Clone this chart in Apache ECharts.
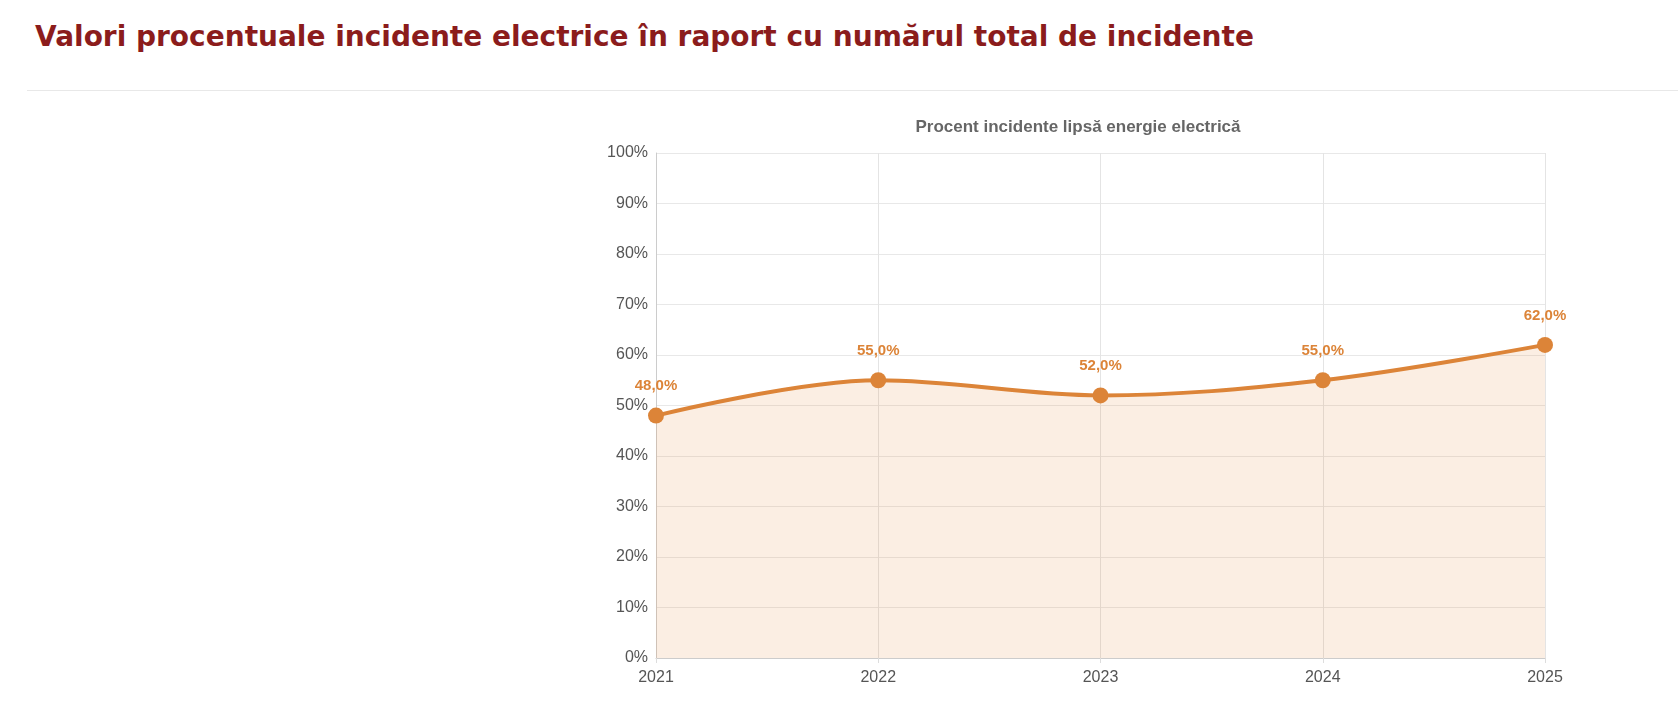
<!DOCTYPE html>
<html>
<head>
<meta charset="utf-8">
<script src="https://cdn.jsdelivr.net/npm/echarts@6/dist/echarts.min.js"></script>
<style>
  html, body { margin: 0; padding: 0; background: #fff; }
  #page { position: relative; width: 1678px; height: 712px; }
  h2 { position: absolute; left: 35px; top: 20px; margin: 0; font-family: "DejaVu Sans", sans-serif; font-size: 28px; font-weight: bold; color: #8b1c1c; }
  #sep { position: absolute; left: 27px; right: 0; top: 90px; border-top: 1px solid #e8e8e8; }
  #chart { position: absolute; left: 0; top: 0; width: 1678px; height: 712px; }
</style>
</head>
<body>
<div id="page">
  <h2>Valori procentuale incidente electrice în raport cu numărul total de incidente</h2>
  <div id="sep"></div>
  <div id="chart"></div>
</div>
<script>
// date grafic
var years = ['2021', '2022', '2023', '2024', '2025'];
var procente = [48.0, 55.0, 52.0, 55.0, 62.0];

var chart = echarts.init(document.getElementById('chart'));
var option = {
  animation: false,
  title: {
    text: 'Procent incidente lipsă energie electrică',
    left: 1073,
    textAlign: 'center',
    top: 114,
    textStyle: { fontSize: 17, fontWeight: 'bold', color: '#666', fontFamily: 'Liberation Sans, Arial, sans-serif' }
  },
  grid: { left: 656, right: 133, top: 153, bottom: 54 },
  xAxis: {
    type: 'category',
    boundaryGap: false,
    data: years,
    axisLine: { lineStyle: { color: '#ccc' } },
    axisTick: { show: true, lineStyle: { color: '#ddd' } },
    splitLine: { show: true, lineStyle: { color: '#e4e4e4' } },
    axisLabel: { color: '#555', fontSize: 16, margin: 12, fontFamily: 'Liberation Sans, Arial, sans-serif' }
  },
  yAxis: {
    type: 'value',
    min: 0, max: 100, interval: 10,
    axisLine: { show: true, lineStyle: { color: '#ccc' } },
    splitLine: { lineStyle: { color: '#e8e8e8' } },
    axisLabel: { color: '#555', fontSize: 16, formatter: '{value}%', fontFamily: 'Liberation Sans, Arial, sans-serif' }
  },
  series: [{
    type: 'line',
    data: procente,
    smooth: 0.35,
    symbol: 'circle',
    symbolSize: 16,
    lineStyle: { color: '#dc8438', width: 4 },
    itemStyle: { color: '#dc8438' },
    areaStyle: { color: 'rgba(224,138,60,0.2)' },
    label: {
      show: true, position: 'top', distance: 14,
      color: '#dc8438', fontSize: 15, fontWeight: 'bold',
      fontFamily: 'Liberation Sans, Arial, sans-serif',
      formatter: function (p) { return p.value.toFixed(1).replace('.', ',') + '%'; }
    }
  }]
};
chart.setOption(option);
</script>
</body>
</html>
